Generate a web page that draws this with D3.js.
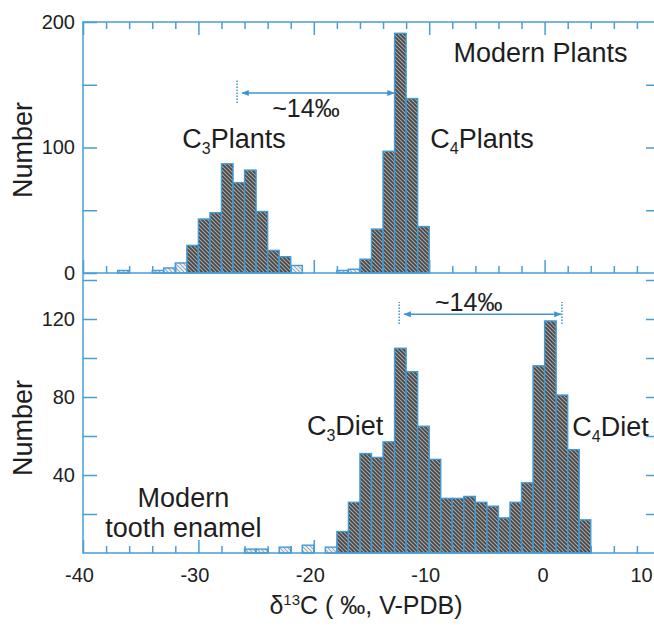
<!DOCTYPE html>
<meta charset="utf-8">

<style>

body {
  margin: 0;
  background: #fff;
}

text {
  font-family: "Liberation Sans", Arial, sans-serif;
  fill: #1e1e1e;
}

.tick text {
  font-size: 20px;
}

.axis path {
  display: none;
}

.axis line,
.frame {
  stroke: #4a9dd6;
  stroke-width: 1.5;
  fill: none;
}

.bar {
  stroke: #3f9ad6;
  stroke-width: 1.4;
}

.note {
  font-size: 27px;
}

.guide {
  stroke: #3f94d2;
  stroke-width: 1.5;
  fill: none;
}

</style>
<svg width="654" height="626"></svg>
<script src="https://d3js.org/d3.v7.min.js"></script>
<script>

// delta13C histograms, bins are 1 permil wide (value = lower edge)
var plantBins   = [-37, -34, -33, -32, -31, -30, -29, -28, -27, -26, -25, -24, -23, -22,
                   -18, -17, -16, -15, -14, -13, -12, -11];
var plantCounts = [2, 2, 4, 8, 22, 43, 48, 87, 72, 82, 49, 18, 13, 6,
                   2, 3, 11, 35, 97, 191, 139, 37];

var enamelBins   = [-26, -25, -23, -21, -19,
                    -18, -17, -16, -15, -14, -13, -12, -11, -10, -9, -8, -7, -6, -5, -4, -3,
                    -2, -1, 0, 1, 2, 3];
var enamelCounts = [2, 2, 3, 4, 3,
                    11, 26, 51, 49, 57, 105, 93, 65, 48, 28, 28, 29, 26, 24, 18, 26,
                    36, 96, 119, 81, 53, 17];

var xTicks      = [-40, -30, -20, -10, 0, 10];
var plantTicks  = [0, 100, 200];
var enamelTicks = [40, 80, 120];

var svg = d3.select("svg");

var x = d3.scaleLinear().domain([-40, 10]).range([83, 660]),
    yTop = d3.scaleLinear().domain([0, 200]).range([273, 22]),
    yBot = d3.scaleLinear().domain([0, 120]).range([553, 319]);

// hatch patterns
var defs = svg.append("defs");

function hatch(id, bg, line) {
  var p = defs.append("pattern")
      .attr("id", id)
      .attr("patternUnits", "userSpaceOnUse")
      .attr("width", 4)
      .attr("height", 4);
  p.append("rect").attr("width", 4).attr("height", 4).attr("fill", bg);
  p.append("path")
      .attr("d", "M-1,-1L5,5M3,-1L5,1M-1,3L1,5")
      .attr("stroke", line)
      .attr("stroke-width", 1.1);
}
hatch("dark", "#474747", "#a8a8a8");
hatch("light", "#f4f7fa", "#9aa6b0");

var plants = plantBins.map(function(b, i) { return {b: b, n: plantCounts[i]}; }),
    enamel = enamelBins.map(function(b, i) { return {b: b, n: enamelCounts[i]}; });

function bars(data, y) {
  svg.append("g").selectAll("rect")
    .data(data)
    .enter().append("rect")
      .attr("class", "bar")
      .attr("x", function(d) { return x(d.b); })
      .attr("width", function(d) { return x(d.b + 1) - x(d.b); })
      .attr("y", function(d) { return y(d.n); })
      .attr("height", function(d) { return y(0) - y(d.n); })
      .attr("fill", function(d) { return d.n >= 10 ? "url(#dark)" : "url(#light)"; });
}
bars(plants, yTop);
bars(enamel, yBot);

// x ticks: minor every 2, major every 10, all pointing inward
var minorX = d3.range(-40, 11, 2).filter(function(d) { return d % 10 !== 0; });

function xAxis(y, axisFn, labels) {
  svg.append("g").attr("class", "axis")
      .attr("transform", "translate(0," + y + ")")
      .call(axisFn(x).tickValues(minorX).tickSize(-7).tickFormat(""));
  var g = svg.append("g").attr("class", "axis")
      .attr("transform", "translate(0," + y + ")")
      .call(axisFn(x).tickValues(xTicks).tickSize(-13).tickPadding(15)
        .tickFormat(labels ? function(d) { return String(d); } : ""));
  return g;
}
xAxis(yTop(200), d3.axisTop, false);
xAxis(yTop(0), d3.axisBottom, false);
var xb = xAxis(yBot(0), d3.axisBottom, true);
xb.selectAll("text").attr("dx", function(d) { return d < 0 ? -4 : (d === 10 ? -19 : -2); });

// y axes
svg.append("g").attr("class", "axis")
    .attr("transform", "translate(" + x(-40) + ",0)")
    .call(d3.axisLeft(yTop).tickValues(d3.range(0, 201, 50)).tickSize(-14).tickPadding(8)
      .tickFormat(function(d) { return plantTicks.indexOf(d) >= 0 ? d : ""; }));
svg.append("g").attr("class", "axis")
    .attr("transform", "translate(" + x(-40) + ",0)")
    .call(d3.axisLeft(yBot).tickValues(d3.range(20, 141, 20)).tickSize(-14).tickPadding(8)
      .tickFormat(function(d) { return enamelTicks.indexOf(d) >= 0 ? d : ""; }));
svg.append("g").attr("class", "axis")
    .attr("transform", "translate(" + x(10) + ",0)")
    .call(d3.axisRight(yTop).tickValues([50, 100, 150]).tickSize(-14).tickFormat(""));
svg.append("g").attr("class", "axis")
    .attr("transform", "translate(" + x(10) + ",0)")
    .call(d3.axisRight(yBot).tickValues(d3.range(20, 141, 20)).tickSize(-14).tickFormat(""));

// frames
svg.append("rect").attr("class", "frame")
    .attr("x", x(-40)).attr("y", yTop(200))
    .attr("width", x(10) - x(-40)).attr("height", yBot(0) - yTop(200));
svg.append("line").attr("class", "frame")
    .attr("x1", x(-40)).attr("x2", x(10))
    .attr("y1", yTop(0)).attr("y2", yTop(0));

// axis titles
svg.append("text")
    .attr("transform", "translate(32," + 150 + ")rotate(-90)")
    .attr("text-anchor", "middle")
    .style("font-size", "27px")
    .text("Number");
svg.append("text")
    .attr("transform", "translate(32," + 428 + ")rotate(-90)")
    .attr("text-anchor", "middle")
    .style("font-size", "27px")
    .text("Number");

var xt = svg.append("text")
    .attr("x", 366).attr("y", 614)
    .attr("text-anchor", "middle")
    .style("font-size", "25px");
xt.append("tspan").text("δ");
xt.append("tspan").attr("dy", -9).style("font-size", "15px").text("13");
xt.append("tspan").attr("dy", 9).text("C ( ‰, V-PDB)");

// labels
function note(xv, yv, parts) {
  var t = svg.append("text").attr("class", "note").attr("x", xv).attr("y", yv);
  t.append("tspan").text(parts[0]);
  if (parts.length > 1) {
    t.append("tspan").attr("dy", 6).style("font-size", "16px").text(parts[1]);
    t.append("tspan").attr("dy", -6).text(parts[2]);
  }
  return t;
}
note(x(-7.9), yTop(168), ["Modern Plants"]);
note(x(-31.4), yTop(99.6), ["C", "3", "Plants"]);
note(x(-9.9), yTop(99.6), ["C", "4", "Plants"]);
note(x(-20.6), yBot(60.5), ["C", "3", "Diet"]);
note(x(2.4), yBot(60), ["C", "4", "Diet"]);
note(x(-31.3), yBot(23.6), ["Modern"]).attr("text-anchor", "middle");
note(x(-31.3), yBot(8.2), ["tooth enamel"]).attr("text-anchor", "middle");
note(x(-23.6), yTop(124), ["~14‰"]).style("font-size", "25px");
note(x(-9.5), yBot(124), ["~14‰"]).style("font-size", "25px");

// ~14 permil arrows
defs.append("marker")
    .attr("id", "head")
    .attr("viewBox", "0 0 10 10")
    .attr("refX", 9).attr("refY", 5)
    .attr("markerWidth", 5).attr("markerHeight", 5)
    .attr("orient", "auto-start-reverse")
  .append("path")
    .attr("d", "M0,1L10,5L0,9z")
    .attr("fill", "#3f94d2");

function span(y, x1, x2, yv, ylo, yhi, dots) {
  svg.append("line").attr("class", "guide")
      .attr("x1", x(x1) + 5).attr("x2", x(x2) - 1)
      .attr("y1", y(yv)).attr("y2", y(yv))
      .attr("marker-start", "url(#head)")
      .attr("marker-end", "url(#head)");
  dots.forEach(function(d) {
    svg.append("line").attr("class", "guide")
        .attr("stroke-dasharray", "1.5,1.5")
        .attr("stroke-width", 1.2)
        .attr("x1", x(d)).attr("x2", x(d))
        .attr("y1", y(ylo)).attr("y2", y(yhi));
  });
}
span(yTop, -26.65, -12.96, 143.4, 135.5, 154.6, [-26.65]);
span(yBot, -12.6, 1.5, 122.5, 117.4, 128.7, [-12.6, 1.5]);

</script>
